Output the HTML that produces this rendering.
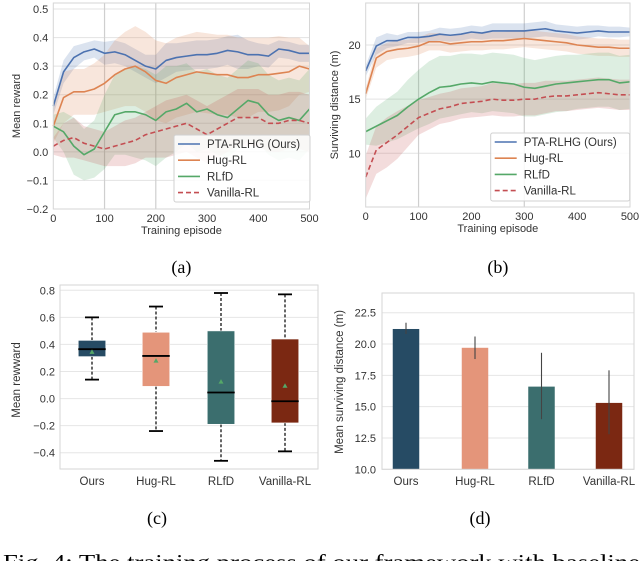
<!DOCTYPE html>
<html><head><meta charset="utf-8">
<style>
html,body{margin:0;padding:0;background:#fff;}
body{width:640px;height:561px;overflow:hidden;position:relative;}
svg{position:absolute;left:0;top:0;font-family:"Liberation Sans",sans-serif;}
</style></head>
<body>
<svg id="fig" width="640" height="561" viewBox="0 0 640 561">
<text x="3" y="569" font-family="Liberation Serif, serif" font-size="21" fill="#000" textLength="637" lengthAdjust="spacingAndGlyphs">Fig. 4: The training process of our framework with baseline</text>
</svg>
<script>
// ---------- data ----------
const episodes = [0,20,40,60,80,100,120,140,160,180,200,220,240,260,280,300,320,340,360,380,400,420,440,460,480,500];
const seriesNames = ["PTA-RLHG (Ours)","Hug-RL","RLfD","Vanilla-RL"];
const rewardOurs = [0.16,0.28,0.33,0.35,0.36,0.345,0.35,0.34,0.32,0.30,0.29,0.32,0.33,0.335,0.34,0.34,0.345,0.355,0.35,0.34,0.34,0.335,0.36,0.355,0.345,0.345];
const rewardHug  = [0.09,0.19,0.21,0.21,0.22,0.24,0.27,0.29,0.30,0.28,0.25,0.24,0.26,0.27,0.28,0.275,0.27,0.27,0.26,0.26,0.27,0.27,0.275,0.28,0.30,0.29];
const rewardRLfD = [0.09,0.07,0.02,-0.01,0.01,0.07,0.13,0.14,0.14,0.13,0.11,0.14,0.15,0.17,0.14,0.15,0.13,0.12,0.15,0.18,0.17,0.13,0.11,0.12,0.11,0.15];
const rewardVan  = [0.02,0.04,0.05,0.03,0.02,0.01,0.02,0.03,0.04,0.06,0.07,0.08,0.09,0.10,0.08,0.06,0.08,0.10,0.12,0.12,0.12,0.10,0.10,0.11,0.11,0.10];
const rewardOursBand = [0.03,0.04,0.04,0.03,0.03,0.04,0.04,0.04,0.04,0.04,0.05,0.06,0.05,0.05,0.05,0.05,0.05,0.05,0.06,0.05,0.04,0.04,0.03,0.03,0.03,0.03];
const rewardHugBand  = [0.06,0.09,0.08,0.08,0.09,0.10,0.12,0.13,0.14,0.14,0.14,0.14,0.14,0.14,0.14,0.14,0.14,0.14,0.14,0.14,0.13,0.13,0.13,0.12,0.10,0.08];
const rewardRLfDBand = [0.04,0.07,0.10,0.09,0.10,0.13,0.14,0.15,0.16,0.16,0.16,0.16,0.15,0.14,0.14,0.14,0.14,0.14,0.14,0.14,0.14,0.14,0.14,0.14,0.14,0.14];
const rewardVanBand  = [0.03,0.06,0.07,0.06,0.06,0.06,0.07,0.08,0.08,0.08,0.09,0.10,0.10,0.10,0.10,0.10,0.10,0.10,0.10,0.10,0.10,0.10,0.10,0.10,0.10,0.10];
const distOurs = [17.6,19.9,20.4,20.4,20.7,20.7,20.8,21.0,20.9,21.0,21.2,21.1,21.3,21.3,21.3,21.3,21.4,21.5,21.3,21.2,21.1,21.2,21.3,21.2,21.2,21.2];
const distHug  = [15.5,18.8,19.4,19.6,19.7,19.9,20.3,20.3,20.1,20.2,20.3,20.3,20.4,20.4,20.5,20.6,20.5,20.4,20.3,20.2,20.0,19.9,19.8,19.8,19.7,19.7];
const distRLfD = [12.0,12.5,13.0,13.5,14.3,15.0,15.6,16.1,16.2,16.4,16.5,16.4,16.6,16.5,16.4,16.1,16.0,16.2,16.4,16.5,16.6,16.7,16.8,16.8,16.5,16.6];
const distVan  = [7.8,10.3,11.0,11.7,12.5,13.3,13.7,14.1,14.3,14.6,14.7,14.8,15.0,14.9,14.9,15.0,15.0,15.2,15.3,15.3,15.4,15.5,15.6,15.5,15.4,15.4];
const distOursBand = [0.5,0.8,0.7,0.5,0.5,0.5,0.5,0.6,0.6,0.6,0.6,0.6,0.7,0.7,0.7,0.7,0.7,0.7,0.6,0.6,0.6,0.6,0.5,0.5,0.5,0.4];
const distHugBand  = [0.5,0.9,0.8,0.8,0.8,0.8,0.8,0.8,0.8,0.8,0.8,0.8,0.8,0.8,0.8,0.8,0.8,0.8,0.8,0.8,0.8,0.8,0.8,0.8,0.8,0.8];
const distRLfDBand = [1.2,1.8,2.0,2.2,2.5,2.7,2.9,2.9,2.8,2.8,2.7,2.7,2.7,2.7,2.7,2.7,2.6,2.6,2.6,2.6,2.5,2.5,2.5,2.5,2.5,2.5];
const distVanBand  = [2.0,2.2,2.3,2.2,1.9,1.6,1.5,1.4,1.4,1.4,1.4,1.4,1.5,1.5,1.5,1.5,1.5,1.5,1.4,1.4,1.4,1.4,1.4,1.4,1.4,1.4];
const rewardTicks = [0.5,0.4,0.3,0.2,0.1,0.0,-0.1,-0.2];
const rewardTickLabels = ["0.5","0.4","0.3","0.2","0.1","0.0","\u22120.1","\u22120.2"];
const episodeTicks = [0,100,200,300,400,500];
const distTicks = [20,15,10];
const boxCats = ["Ours","Hug-RL","RLfD","Vanilla-RL"];
const boxWhiskLo = [0.14,-0.24,-0.46,-0.39];
const boxQ1 = [0.31,0.09,-0.19,-0.18];
const boxMedian = [0.365,0.315,0.045,-0.02];
const boxQ3 = [0.43,0.49,0.50,0.44];
const boxWhiskHi = [0.60,0.68,0.78,0.77];
const boxMean = [0.345,0.28,0.125,0.095];
const boxTicks = [0.8,0.6,0.4,0.2,0.0,-0.2,-0.4];
const boxTickLabels = ["0.8","0.6","0.4","0.2","0.0","\u22120.2","\u22120.4"];
const barVals = [21.2,19.7,16.6,15.3];
const barErrLo = [20.8,18.8,14.0,12.8];
const barErrHi = [21.7,20.6,19.3,17.9];
const barTicks = [22.5,20.0,17.5,15.0,12.5,10.0];
const barTickLabels = ["22.5","20.0","17.5","15.0","12.5","10.0"];

// ---------- helpers ----------
const svg = document.getElementById('fig');
const NS = 'http://www.w3.org/2000/svg';
function mk(tag, attrs, parent){
  const e = document.createElementNS(NS, tag);
  for (const k in attrs) e.setAttribute(k, attrs[k]);
  (parent||svg).appendChild(e);
  return e;
}
function txt(x,y,s,attrs,parent){
  const e = mk('text', Object.assign({x:x,y:y,'font-size':11,fill:'#333'},attrs||{}), parent);
  e.textContent = s; return e;
}
const lineColors = ['#4c72b0','#dd8452','#55a868','#c44e52'];
const palette = ['#264b64','#e4957a','#3b6e6e','#7b2812'];

function linePanel(cfg){
  const g = mk('g',{});
  
  
  const X = v => cfg.x0 + (v - cfg.xmin) * (cfg.x1 - cfg.x0) / (cfg.xmax - cfg.xmin);
  const Y = v => cfg.yA + (cfg.vA - v) * (cfg.yB - cfg.yA) / (cfg.vA - cfg.vB);
  cfg.yticks.forEach((t,i)=>{
    const gl = mk('line',{x1:cfg.x0,x2:cfg.x1,y1:Y(t),y2:Y(t),stroke:'#e3e3e3','stroke-width':1},g);
    
    
    const tl = txt(cfg.x0-5, Y(t)+4, cfg.ytickLabels[i], {'text-anchor':'end'}, g);
    
    
  });
  episodeTicks.forEach(t=>{
    if (cfg.vgrid.indexOf(t)>=0){
      const vl = mk('line',{x1:X(t),x2:X(t),y1:cfg.top,y2:cfg.bottom,stroke:'#cfcfcf','stroke-width':1.2},g);
      
      
    }
    const tl = txt(X(t), cfg.bottom+13, String(t), {'text-anchor':'middle'}, g);
    
    
  });
  cfg.series.forEach((s,si)=>{
    let up = episodes.map((e,i)=>X(e)+','+Y(s.vals[i]+s.band[i]));
    let lo = episodes.map((e,i)=>X(e)+','+Y(s.vals[i]-s.band[i])).reverse();
    const b = mk('polygon',{points:up.concat(lo).join(' '),fill:lineColors[si],'fill-opacity':0.2,stroke:'none'},g);
    
    
  });
  cfg.series.forEach((s,si)=>{
    const pts = episodes.map((e,i)=>X(e)+','+Y(s.vals[i])).join(' ');
    const attrs = {points:pts,fill:'none',stroke:lineColors[si],'stroke-width':1.6,'stroke-linejoin':'round'};
    if (si===3) attrs['stroke-dasharray']='5,3';
    const l = mk('polyline',attrs,g);
    
    
  });
  const fr = mk('rect',{x:cfg.x0,y:cfg.top,width:cfg.x1-cfg.x0,height:cfg.bottom-cfg.top,fill:'none',stroke:'#d6d6d6','stroke-width':1},g);
  
  
  const xt = txt((cfg.x0+cfg.x1)/2, cfg.bottom+25, 'Training episode', {'text-anchor':'middle'}, g);
  
  
  const yt = txt(0,0,cfg.ylabel,{'text-anchor':'middle',transform:'translate('+cfg.ylx+','+((cfg.top+cfg.bottom)/2)+') rotate(-90)'},g);
  
  
  const lg = mk('g',{},g);
  
  
  mk('rect',{x:cfg.lx,y:cfg.ly,width:cfg.lw,height:cfg.lh,fill:'#fff','fill-opacity':0.85,stroke:'#d0d0d0',rx:2},lg);
  seriesNames.forEach((n,i)=>{
    const yy = cfg.ly + 9 + i*cfg.lstep;
    const la = {x1:cfg.lx+4,x2:cfg.lx+26,y1:yy,y2:yy,stroke:lineColors[i],'stroke-width':1.6};
    if (i===3) la['stroke-dasharray']='5,3';
    const le = mk('line',la,lg);
    
    
    const lt = txt(cfg.lx+33, yy+4, n, {'font-size':11.5}, lg);
    
    
  });
  const pl = txt((cfg.x0+cfg.x1)/2, 273, cfg.panel, {'text-anchor':'middle','font-family':'Liberation Serif, serif','font-size':18,fill:'#000'}, g);
  
  
}

linePanel({name:'reward-curve-chart',panel:'(a)',x0:53.3,x1:309.5,xmin:0,xmax:500,top:3,bottom:209,
  yA:9,vA:0.5,yB:209,vB:-0.2,yticks:rewardTicks,ytickLabels:rewardTickLabels,vgrid:[100,200],
  ylabel:'Mean reward',ylx:20,lx:174,ly:135,lw:136,lh:67,lstep:16.2,
  series:[{key:'ours',vals:rewardOurs,band:rewardOursBand},{key:'hug-rl',vals:rewardHug,band:rewardHugBand},
          {key:'rlfd',vals:rewardRLfD,band:rewardRLfDBand},{key:'vanilla-rl',vals:rewardVan,band:rewardVanBand}]});
linePanel({name:'distance-curve-chart',panel:'(b)',x0:365.7,x1:630,xmin:0,xmax:500,top:3,bottom:207,
  yA:45,vA:20,yB:153.3,vB:10,yticks:distTicks,ytickLabels:["20","15","10"],vgrid:[100,300],
  ylabel:'Surviving distance (m)',ylx:338,lx:490.7,ly:133,lw:139,lh:68,lstep:16.2,
  series:[{key:'ours',vals:distOurs,band:distOursBand},{key:'hug-rl',vals:distHug,band:distHugBand},
          {key:'rlfd',vals:distRLfD,band:distRLfDBand},{key:'vanilla-rl',vals:distVan,band:distVanBand}]});

// ---------- box plot (c) ----------
(function(){
  const g = mk('g',{});
  
  
  const x0=60,x1=318,top=285,bottom=469;
  const Y = v => 290.3 + (0.8 - v) * (452.7-290.3)/1.2;
  const cx = [92,156,221,285];
  boxTicks.forEach((t,i)=>{
    const gl = mk('line',{x1:x0,x2:x1,y1:Y(t),y2:Y(t),stroke:'#e6e6e6'},g);
    
    
    const tl = txt(x0-5,Y(t)+4,boxTickLabels[i],{'text-anchor':'end'},g);
    
    
  });
  const w = 27.5;
  boxCats.forEach((c,i)=>{
    const bg = mk('g',{},g);
    
    
    mk('line',{x1:cx[i],x2:cx[i],y1:Y(boxWhiskHi[i]),y2:Y(boxQ3[i]),stroke:'#000','stroke-dasharray':'3,2','stroke-width':1.2},bg);
    mk('line',{x1:cx[i],x2:cx[i],y1:Y(boxQ1[i]),y2:Y(boxWhiskLo[i]),stroke:'#000','stroke-dasharray':'3,2','stroke-width':1.2},bg);
    mk('line',{x1:cx[i]-7,x2:cx[i]+7,y1:Y(boxWhiskHi[i]),y2:Y(boxWhiskHi[i]),stroke:'#000','stroke-width':1.8},bg);
    mk('line',{x1:cx[i]-7,x2:cx[i]+7,y1:Y(boxWhiskLo[i]),y2:Y(boxWhiskLo[i]),stroke:'#000','stroke-width':1.8},bg);
    mk('rect',{x:cx[i]-w/2,y:Y(boxQ3[i]),width:w,height:Y(boxQ1[i])-Y(boxQ3[i]),fill:palette[i],stroke:'#fff','stroke-width':0.6},bg);
    mk('line',{x1:cx[i]-w/2,x2:cx[i]+w/2,y1:Y(boxMedian[i]),y2:Y(boxMedian[i]),stroke:'#000','stroke-width':1.8},bg);
    const my = Y(boxMean[i]);
    mk('polygon',{points:(cx[i]-2.5)+','+(my+2)+' '+(cx[i]+2.5)+','+(my+2)+' '+cx[i]+','+(my-2.5),fill:'#55a868'},bg);
    const tl = txt(cx[i],485,c,{'text-anchor':'middle','font-size':11.5},g);
    
    
  });
  const fr = mk('rect',{x:x0,y:top,width:x1-x0,height:bottom-top,fill:'none',stroke:'#d6d6d6'},g);
  
  
  const yt = txt(0,0,'Mean rewward',{'text-anchor':'middle',transform:'translate(20,380) rotate(-90)','font-size':11.5},g);
  
  
  const pl = txt(157,524,'(c)',{'text-anchor':'middle','font-family':'Liberation Serif, serif','font-size':18,fill:'#000'},g);
  
  
})();

// ---------- bar chart (d) ----------
(function(){
  const g = mk('g',{});
  
  
  const x0=382,x1=634,top=293,bottom=469.3;
  const Y = v => 469.3 - (v - 10) * (469.3-312.7)/12.5;
  const cx = [406,475,541.5,609];
  barTicks.forEach((t,i)=>{
    const gl = mk('line',{x1:x0,x2:x1,y1:Y(t),y2:Y(t),stroke:'#e6e6e6'},g);
    
    
    const tl = txt(x0-6,Y(t)+4,barTickLabels[i],{'text-anchor':'end'},g);
    
    
  });
  const w = 26.5;
  boxCats.forEach((c,i)=>{
    const b = mk('rect',{x:cx[i]-w/2,y:Y(barVals[i]),width:w,height:Y(10)-Y(barVals[i]),fill:palette[i]},g);
    
    
    const e = mk('line',{x1:cx[i],x2:cx[i],y1:Y(barErrHi[i]),y2:Y(barErrLo[i]),stroke:'#444','stroke-width':1.1},g);
    
    
    const tl = txt(cx[i],485,c,{'text-anchor':'middle','font-size':11.5},g);
    
    
  });
  const fr = mk('rect',{x:x0,y:top,width:x1-x0,height:bottom-top,fill:'none',stroke:'#d6d6d6'},g);
  
  
  const yt = txt(0,0,'Mean surviving distance (m)',{'text-anchor':'middle',transform:'translate(343,382) rotate(-90)','font-size':11.5},g);
  
  
  const pl = txt(480,524,'(d)',{'text-anchor':'middle','font-family':'Liberation Serif, serif','font-size':18,fill:'#000'},g);
  
  
})();
</script>
</body></html>
